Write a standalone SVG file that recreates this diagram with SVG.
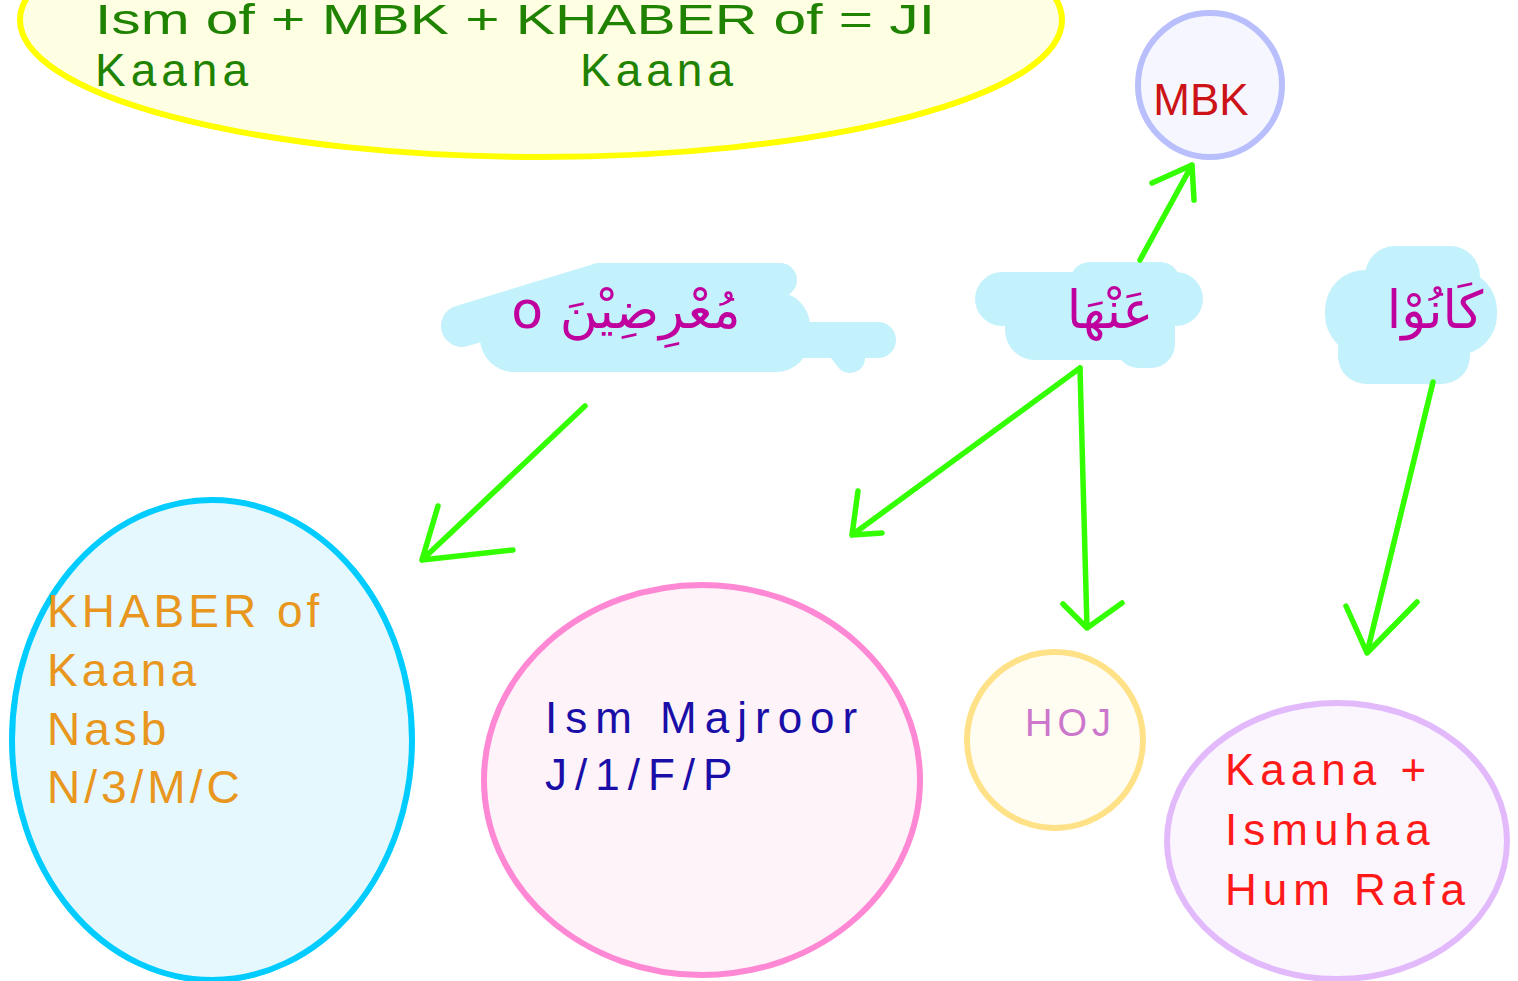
<svg xmlns="http://www.w3.org/2000/svg" width="1518" height="981" viewBox="0 0 1518 981">
<defs>
<style>
.lbl{font-family:"Liberation Sans","DejaVu Sans",sans-serif;}
.ar{font-family:"DejaVu Sans","Noto Sans",sans-serif;fill:#c0009e;font-size:52px;}
.blob{fill:#c4f2fc;}
.conn{stroke:#33ff00;stroke-width:5.5;fill:none;stroke-linecap:round;stroke-linejoin:round;}
</style>
</defs>
<rect width="1518" height="981" fill="#ffffff"/>

<g id="node-formula">
<ellipse cx="541" cy="20" rx="521" ry="137" fill="#fefee3" stroke="#ffff00" stroke-width="6"/>
<text class="lbl" x="95" y="34" font-size="42" fill="#1f8200" textLength="840" lengthAdjust="spacingAndGlyphs">Ism of + MBK + KHABER of = JI</text>
<text class="lbl" x="95" y="86" font-size="46" fill="#1f8200" letter-spacing="5">Kaana</text>
<text class="lbl" x="580" y="86" font-size="46" fill="#1f8200" letter-spacing="5">Kaana</text>
</g>

<g id="node-mbk">
<circle cx="1210" cy="85" r="72" fill="#f6f7fe" stroke="#b8bffc" stroke-width="6"/>
<text class="lbl" x="1201" y="115" font-size="44" fill="#cc1418" text-anchor="middle">MBK</text>
</g>

<g id="node-muridin">
<g class="blob">
<line x1="462" y1="326" x2="600" y2="284" stroke="#c4f2fc" stroke-width="42" stroke-linecap="round"/>
<line x1="600" y1="280" x2="780" y2="280" stroke="#c4f2fc" stroke-width="34" stroke-linecap="round"/>
<rect x="480" y="292" width="330" height="80" rx="34"/>
<line x1="770" y1="340" x2="878" y2="340" stroke="#c4f2fc" stroke-width="36" stroke-linecap="round"/>
<line x1="840" y1="345" x2="850" y2="358" stroke="#c4f2fc" stroke-width="30" stroke-linecap="round"/>
</g>
<text class="ar" x="626" y="328" text-anchor="middle" direction="rtl">مُعْرِضِيْنَ o</text>
</g>

<g id="node-anha">
<g class="blob">
<rect x="975" y="272" width="228" height="54" rx="27"/>
<rect x="1005" y="290" width="170" height="70" rx="30"/>
<rect x="1070" y="262" width="110" height="40" rx="20"/>
<rect x="1115" y="300" width="60" height="68" rx="24"/>
</g>
<text class="ar" x="1110" y="328" text-anchor="middle">عَنْهَا</text>
</g>

<g id="node-kaanu">
<g class="blob">
<rect x="1325" y="270" width="172" height="85" rx="40"/>
<rect x="1365" y="246" width="115" height="60" rx="30"/>
<rect x="1338" y="322" width="132" height="62" rx="28"/>
</g>
<text class="ar" x="1435" y="328" text-anchor="middle">كَانُوْا</text>
</g>

<g id="node-khaber">
<ellipse cx="212" cy="740" rx="200" ry="240" fill="#e4f8fd" stroke="#00ccff" stroke-width="6"/>
<text class="lbl" font-size="46" fill="#e8961e" letter-spacing="4">
<tspan x="47" y="627">KHABER of</tspan>
<tspan x="47" y="686">Kaana</tspan>
<tspan x="47" y="745">Nasb</tspan>
<tspan x="47" y="803">N/3/M/C</tspan>
</text>
</g>

<g id="node-majroor">
<ellipse cx="702" cy="780" rx="218" ry="195" fill="#fdf3f9" stroke="#ff88d4" stroke-width="6"/>
<text class="lbl" font-size="44" fill="#1a0ea8" letter-spacing="8">
<tspan x="545" y="733">Ism Majroor</tspan>
<tspan x="545" y="790">J/1/F/P</tspan>
</text>
</g>

<g id="node-hoj">
<circle cx="1055" cy="740" r="88" fill="#fffcf1" stroke="#ffe288" stroke-width="6"/>
<text class="lbl" x="1025" y="736" font-size="38" fill="#cc77cc" letter-spacing="5">HOJ</text>
</g>

<g id="node-ismuhaa">
<ellipse cx="1337" cy="841" rx="170" ry="138" fill="#fbf5fe" stroke="#e2bafc" stroke-width="6"/>
<text class="lbl" font-size="44" fill="#ff1a1a" letter-spacing="6">
<tspan x="1225" y="785">Kaana +</tspan>
<tspan x="1225" y="845">Ismuhaa</tspan>
<tspan x="1225" y="905">Hum Rafa</tspan>
</text>
</g>

<g id="connectors">
<path class="conn" d="M1140 260 L1192 165 M1152 183 L1192 165 L1194 200"/>
<path class="conn" d="M585 406 L422 560 M438 506 L422 560 L513 550"/>
<path class="conn" d="M1080 368 L852 535 M858 491 L852 535 L882 533"/>
<path class="conn" d="M1080 368 L1087 628 M1063 604 L1087 628 L1122 603"/>
<path class="conn" d="M1433 382 L1367 653 M1346 606 L1367 653 L1417 602"/>
</g>
</svg>
